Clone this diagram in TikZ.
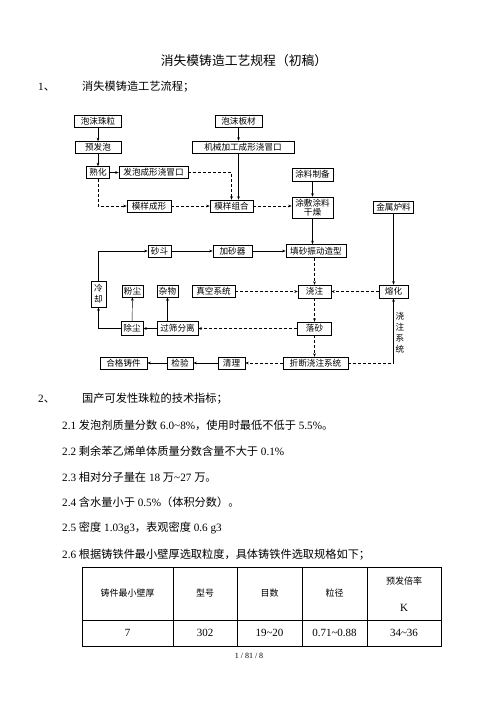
\documentclass[tikz,border=0pt]{standalone}
\usepackage{fontspec}
\setmainfont{Liberation Serif}
\newfontfamily\cjk{Noto Sans CJK SC}
\usepackage{tikz}
\usetikzlibrary{arrows.meta}
\newcommand{\zh}[1]{{\cjk #1}}

\begin{document}
\begin{tikzpicture}[x=1pt, y=-1pt,
    box/.style={draw, line width=0.5pt, inner sep=0pt, minimum height=12pt,
      align=center, font=\fontsize{8.6}{10}\selectfont\cjk},
    flow/.style={-{Stealth[length=3.5pt, width=2.6pt]}, line width=0.45pt},
    dflow/.style={flow, densely dashed},
    txt/.style={anchor=west, inner sep=0pt, font=\fontsize{11.2}{13}\selectfont},
    cell/.style={inner sep=0pt, font=\fontsize{11}{13}\selectfont},
    hcell/.style={inner sep=0pt, font=\fontsize{9}{11}\selectfont\cjk}]
  \useasboundingbox (0,0) rectangle (496,702);

  % title and headings
  \node[inner sep=0pt, font=\fontsize{12.8}{15}\selectfont\cjk] (title) at (244,61) {消失模铸造工艺规程（初稿）};
  \node[txt] (num1) at (38,87) {1\zh{、}};
  \node[txt] (head1) at (82,87) {\zh{消失模铸造工艺流程；}};

  % flow chart boxes
  \node[box, minimum width=47pt] (zhuli) at (98,121) {泡沫珠粒};
  \node[box, minimum width=46pt] (yufa) at (98,147.5) {预发泡};
  \node[box, minimum width=23pt] (shuhua) at (98,172.5) {熟化};
  \node[box, minimum width=69pt] (fpcx) at (153.5,172.5) {发泡成形浇冒口};
  \node[box, minimum width=44pt] (chengxing) at (149,206) {模样成形};
  \node[box, minimum width=43pt] (zuhe) at (231.5,206) {模样组合};
  \node[box, minimum width=47pt] (banc) at (238.5,121) {泡沫板材};
  \node[box, minimum width=102pt] (jixie) at (243,147) {机械加工成形浇冒口};
  \node[box, minimum width=41pt, minimum height=13pt] (tuliao) at (312.5,174.5) {涂料制备};
  \node[box, minimum width=41pt, minimum height=21pt, font=\fontsize{8.6}{9.6}\selectfont\cjk] (tufu) at (312.5,207.5) {涂敷涂料\\干燥};
  \node[box, minimum width=40pt] (jinshu) at (393.5,207.5) {金属炉料};
  \node[box, minimum width=23pt] (shadou) at (159.5,251) {砂斗};
  \node[box, minimum width=39pt] (jsq) at (232.5,251) {加砂器};
  \node[box, minimum width=60pt, minimum height=13pt] (tiansha) at (316,251) {填砂振动造型};
  \node[box, minimum width=15pt, minimum height=26pt, font=\fontsize{8.6}{11}\selectfont\cjk] (lengque) at (98.5,294) {冷\\却};
  \node[box, minimum width=21pt] (fenchen) at (132.5,291) {粉尘};
  \node[box, minimum width=21pt] (zawu) at (167.5,291) {杂物};
  \node[box, minimum width=43pt] (zhenkong) at (213.5,291.5) {真空系统};
  \node[box, minimum width=33pt, minimum height=13pt] (jiaozhu) at (314.5,291.5) {浇注};
  \node[box, minimum width=29pt, minimum height=13pt] (ronghua) at (393.5,291.5) {熔化};
  \node[box, minimum width=34pt, minimum height=13pt] (luosha) at (314.5,328.5) {落砂};
  \node[box, minimum width=22pt, minimum height=14pt] (chuchen) at (132,328.5) {除尘};
  \node[box, minimum width=41pt, minimum height=14pt] (guoshai) at (177.5,328.5) {过筛分离};
  \node[box, minimum width=47pt] (hege) at (123.5,363) {合格铸件};
  \node[box, minimum width=26pt] (jianyan) at (180,363) {检验};
  \node[box, minimum width=27pt] (qingli) at (231.5,363) {清理};
  \node[box, minimum width=65pt] (zheduan) at (315.5,363) {折断浇注系统};
  \node[inner sep=0pt, align=center, font=\fontsize{8.6}{11}\selectfont\cjk] (jzxt) at (400,333) {浇\\注\\系\\统};

  % connectors
  \draw[flow] (zhuli) -- (yufa);
  \draw[flow] (yufa) -- (shuhua);
  \draw[flow] (shuhua) -- (fpcx);
  \draw[dflow] (fpcx.east) -| (zuhe.north);
  \draw[dflow] (shuhua.south) |- (chengxing.west);
  \draw[dflow] (chengxing) -- (zuhe);
  \draw[flow] (banc.south) -- (banc.south |- jixie.north);
  \draw[flow] (banc.south |- jixie.south) -- (banc.south |- zuhe.north);
  \draw[dflow] (zuhe.east) -- (zuhe.east -| tufu.west);
  \draw[flow] (tuliao) -- (tufu);
  \draw[flow, semithick] (tufu.south) -- (tufu.south |- tiansha.north);
  \draw[flow] (shadou) -- (jsq);
  \draw[flow] (jsq) -- (tiansha);
  \draw[flow] (lengque.north) |- (shadou.west);
  \draw[dflow] (tiansha.south -| jiaozhu) -- (jiaozhu.north);
  \draw[dflow] (zhenkong) -- (jiaozhu);
  \draw[dflow] (ronghua) -- (jiaozhu);
  \draw[flow, semithick] (jinshu) -- (ronghua);
  \draw[dflow] (jiaozhu) -- (luosha);
  \draw[dflow] (luosha) -- (guoshai);
  \draw[flow] (guoshai) -- (chuchen);
  \draw[flow] (chuchen) -- (fenchen);
  \draw[flow] (guoshai.north -| zawu) -- (zawu.south);
  \draw[flow] (chuchen.west) -| (lengque.south);
  \draw[dflow] (luosha.south) -- (luosha.south |- zheduan.north);
  \draw[dflow] (zheduan) -- (qingli);
  \draw[flow] (qingli) -- (jianyan);
  \draw[flow] (jianyan) -- (hege);
  \coordinate (turn) at (ronghua.south |- zheduan.east);
  \draw[densely dashed, line width=0.45pt] (zheduan.east) -- (turn);
  \draw[flow, semithick] (turn) -- (ronghua.south);

  % section 2
  \node[txt] (num2) at (38,399) {2\zh{、}};
  \node[txt] (head2) at (82,399) {\zh{国产可发性珠粒的技术指标；}};
  \node[txt] (it1) at (62,425) {2.1 \zh{发泡剂质量分数} 6.0\textasciitilde8\%\zh{，使用时最低不低于} 5.5\%\zh{。}};
  \node[txt] (it2) at (62,451) {2.2 \zh{剩余苯乙烯单体质量分数含量不大于} 0.1\%};
  \node[txt] (it3) at (62,477) {2.3 \zh{相对分子量在} 18 \zh{万}\textasciitilde27 \zh{万。}};
  \node[txt] (it4) at (62,502) {2.4 \zh{含水量小于} 0.5\%\zh{（体积分数）。}};
  \node[txt] (it5) at (62,528) {2.5 \zh{密度} 1.03g3\zh{，表观密度} 0.6 g3};
  \node[txt] (it6) at (62,555) {2.6 \zh{根据铸铁件最小壁厚选取粒度，具体铸铁件选取规格如下；}};

  % table
  \draw[line width=0.6pt] (82,567) rectangle (441,646);
  \draw[line width=0.6pt] (82,620) -- (441,620);
  \foreach \cx in {173,237,302,367}
    \draw[line width=0.6pt] (\cx,567) -- (\cx,646);
  \node[hcell] (h1) at (127.5,593.5) {铸件最小壁厚};
  \node[hcell] (h2) at (205,593.5) {型号};
  \node[hcell] (h3) at (269.5,593.5) {目数};
  \node[hcell] (h4) at (334.5,593.5) {粒径};
  \node[hcell] (h5) at (404,581) {预发倍率};
  \node[cell] (h5k) at (404,608) {K};
  \node[cell] (d1) at (127.5,633) {7};
  \node[cell] (d2) at (205,633) {302};
  \node[cell] (d3) at (269.5,633) {19\textasciitilde20};
  \node[cell] (d4) at (334.5,633) {0.71\textasciitilde0.88};
  \node[cell] (d5) at (404,633) {34\textasciitilde36};

  \node[inner sep=0pt, font=\fontsize{8}{10}\selectfont] (page) at (249,656) {1 / 81 / 8};
\end{tikzpicture}
\end{document}
